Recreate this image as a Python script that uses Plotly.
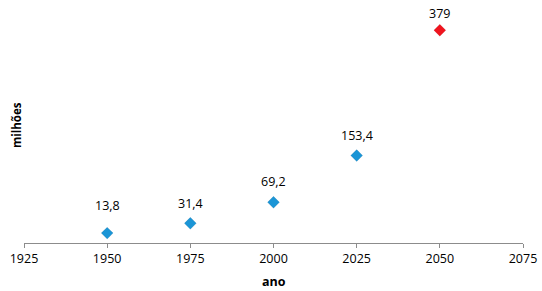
import plotly.graph_objects as go

anos = [1950, 1975, 2000, 2025, 2050]
milhoes = [13.8, 31.4, 69.2, 153.4, 379]
rotulos = ["13,8", "31,4", "69,2", "153,4", "379"]
cores = ["#1b95d6", "#1b95d6", "#1b95d6", "#1b95d6", "#f0141e"]
ticks_x = [1925, 1950, 1975, 2000, 2025, 2050, 2075]
# vertical offset (px) of each data label above its marker (style)
desloc_rotulo = [28, 20, 21, 20, 17]

W, H = 542, 291
L, R, T, B = 24, 19, 18, 48
pw, ph = W - L - R, H - T - B

fig = go.Figure()
fig.add_trace(go.Scatter(
    x=anos, y=milhoes, mode="markers",
    marker=dict(symbol="diamond", size=9.2, color=cores,
                line=dict(width=0.6, color="rgba(0,0,0,0.12)")),
    cliponaxis=False, showlegend=False, hoverinfo="x+y",
))

ann = []
for x, y, t, d in zip(anos, milhoes, rotulos, desloc_rotulo):
    ann.append(dict(x=x, y=y, xref="x", yref="y", text=t, showarrow=False,
                    yshift=d, xanchor="center", yanchor="middle",
                    font=dict(size=12.5, color="#000000",
                              family="Open Sans, sans-serif")))
ann.append(dict(text="<b>milhões</b>", x=(17 - L) / pw, y=(H - B - 125) / ph,
                xref="paper", yref="paper", showarrow=False, textangle=-90,
                xanchor="center", yanchor="middle",
                font=dict(size=11.5, color="#000000",
                          family="Liberation Sans Narrow, Open Sans, sans-serif")))
ann.append(dict(text="<b>ano</b>", x=0.5, y=-(281.5 - (H - B)) / ph,
                xref="paper", yref="paper", showarrow=False,
                xanchor="center", yanchor="middle",
                font=dict(size=12.5, color="#000000", family="Open Sans, sans-serif")))

fig.update_layout(
    width=W, height=H,
    margin=dict(l=L, r=R, t=T, b=B, autoexpand=False),
    paper_bgcolor="white", plot_bgcolor="white",
    font=dict(family="Open Sans, sans-serif", size=12.5, color="#000000"),
    xaxis=dict(range=[1925, 2075], tickvals=ticks_x, ticktext=[str(t) for t in ticks_x],
               showgrid=False, zeroline=False, showline=True, linecolor="#8c8c8c",
               linewidth=1, ticks="outside", ticklen=4, tickcolor="#8c8c8c",
               tickfont=dict(size=12.5), automargin=False),
    yaxis=dict(range=[-4, 401], showgrid=False, zeroline=False, showline=False,
               showticklabels=False, ticks="", automargin=False),
    annotations=ann,
)

fig.write_html("out.html", config={"displayModeBar": False},
               post_script="document.body.style.margin='0px';document.body.style.overflow='hidden';")
